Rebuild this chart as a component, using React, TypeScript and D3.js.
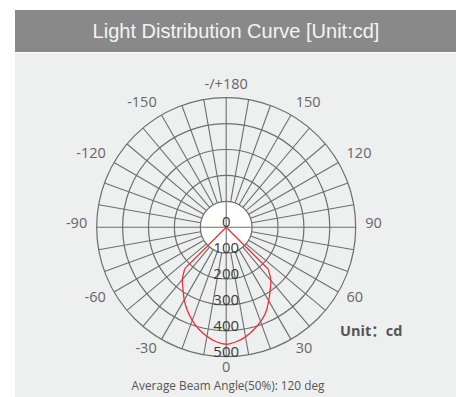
import React from "react";
import * as d3 from "d3";

const titleText = "Light Distribution Curve [Unit:cd]";
const footerText = "Average Beam Angle(50%): 120 deg";
const unitText = "Unit：cd";
const radialTicks = [0, 100, 200, 300, 400, 500];
const angleTicks = [0, 30, 60, 90, 120, 150, 180, -150, -120, -90, -60, -30];
const angleLabels = ["0", "30", "60", "90", "120", "150", "-/+180", "-150", "-120", "-90", "-60", "-30"];
const curveAngles = [-50, -45, -40, -35, -30, -25, -20, -15, -10, -5, 0, 5, 10, 15, 20, 25, 30, 35, 40, 45, 50];
const curveValues = [0, 226, 263, 291, 324, 355, 383, 408, 428, 444, 452, 444, 430, 410, 388, 362, 328, 296, 268, 230, 0];

const W = 456;
const H = 397;
const cx = 226.2;
const cy = 227.2;
const R = 129.5;
const gridColor = "#6e6e6e";

export default function App() {
  const r = d3.scaleLinear().domain([0, 500]).range([0, R]);
  const toRad = (deg: number) => (deg * Math.PI) / 180;
  // angle measured from bottom, positive to the right
  const px = (deg: number, rad: number) => cx + rad * Math.sin(toRad(deg));
  const py = (deg: number, rad: number) => cy + rad * Math.cos(toRad(deg));

  const spokes = d3.range(-170, 190, 10);
  const rings = radialTicks.filter((v) => v > 0);

  type P = { a: number; v: number };
  const pts: P[] = curveAngles.map((a, i) => ({ a, v: curveValues[i] }));
  const lobe = pts.filter((p) => p.v > 0);
  const zeroEdges: P[][] = [];
  for (let i = 0; i < pts.length - 1; i++) {
    if ((pts[i].v === 0) !== (pts[i + 1].v === 0)) zeroEdges.push([pts[i], pts[i + 1]]);
  }

  const smooth = d3
    .lineRadial<P>()
    .angle((d) => Math.PI - toRad(d.a))
    .radius((d) => r(d.v))
    .curve(d3.curveCatmullRom.alpha(0.5));
  const straight = d3
    .lineRadial<P>()
    .angle((d) => Math.PI - toRad(d.a))
    .radius((d) => r(d.v))
    .curve(d3.curveLinear);

  const labelR = 139;
  const red = "#e8333f";

  return (
    <svg
      width={W}
      height={H}
      style={{ position: "absolute", left: 0, top: 0, display: "block" }}
    >
      <rect x={0} y={0} width={W} height={H} fill="#ffffff" />
      <rect x={15} y={10} width={W - 15} height={42} fill="#898989" />
      <rect x={15} y={53} width={W - 15} height={H - 53} fill="#eef0ef" />
      <text
        x={236}
        y={31}
        textAnchor="middle"
        dominantBaseline="central"
        fontFamily="'Liberation Sans', Arial, sans-serif"
        fontSize={20}
        fill="#f4f4f4"
      >
        {titleText}
      </text>

      {/* rings */}
      {rings.map((v) => (
        <circle
          key={v}
          cx={cx}
          cy={cy}
          r={r(v)}
          fill={v === 100 ? "#ffffff" : "none"}
          stroke={gridColor}
          strokeWidth={1.2}
        />
      ))}
      {/* spokes */}
      {spokes.map((a) => {
        const full = a % 90 === 0;
        const r0 = full ? 0 : r(100);
        return (
          <line
            key={a}
            x1={px(a, r0)}
            y1={py(a, r0)}
            x2={px(a, R)}
            y2={py(a, R)}
            stroke={gridColor}
            strokeWidth={1.1}
          />
        );
      })}

      {/* curve */}
      <g transform={`translate(${cx},${cy})`} fill="none" stroke={red} strokeWidth={1.3}>
        <path d={smooth(lobe) || ""} />
        {zeroEdges.map((seg, i) => (
          <path key={i} d={straight(seg) || ""} />
        ))}
      </g>

      {/* radial labels */}
      {radialTicks.map((v) => (
        <text
          key={v}
          x={cx}
          y={cy + r(v) - 6}
          textAnchor="middle"
          dominantBaseline="central"
          fontFamily="'Open Sans', 'Noto Sans', sans-serif"
          fontSize={15}
          fill="#3a3a3a"
        >
          {v}
        </text>
      ))}

      {/* angle labels */}
      {angleTicks.map((a, i) => {
        const s = Math.sin(toRad(a));
        const c = Math.cos(toRad(a));
        const anchor = s > 0.01 ? "start" : s < -0.01 ? "end" : "middle";
        const dy = c <= 0.01 ? -5 : 0;
        return (
          <text
            key={a}
            x={px(a, labelR)}
            y={py(a, labelR) + dy}
            textAnchor={anchor}
            dominantBaseline="central"
            fontFamily="'Open Sans', 'Noto Sans', sans-serif"
            fontSize={14.5}
            fill="#666666"
          >
            {angleLabels[i]}
          </text>
        );
      })}

      <text
        x={340}
        y={330}
        dominantBaseline="central"
        fontFamily="'Open Sans', 'Noto Sans CJK SC', sans-serif"
        fontWeight="bold"
        fontSize={14.5}
        fill="#555555"
      >
        {unitText}
      </text>

      <text
        x={228}
        y={385}
        textAnchor="middle"
        dominantBaseline="central"
        fontFamily="'Open Sans', 'Noto Sans', sans-serif"
        fontSize={11.8}
        fill="#555555"
      >
        {footerText}
      </text>
    </svg>
  );
}
